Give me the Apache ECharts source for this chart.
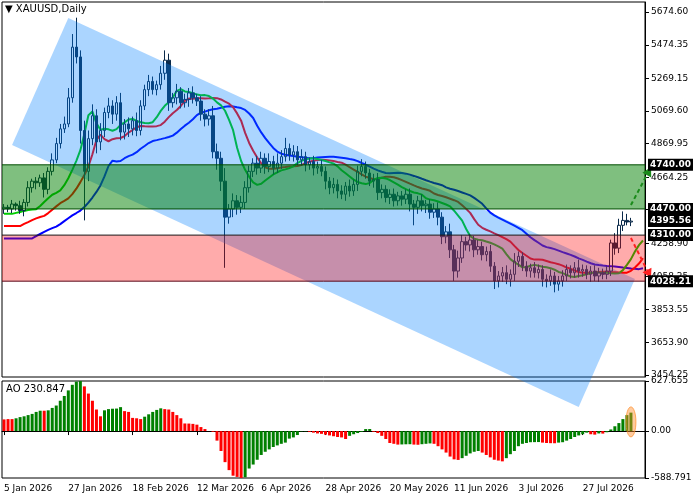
<!DOCTYPE html>
<html><head><meta charset="utf-8">
<script src="https://cdn.jsdelivr.net/npm/echarts@6/dist/echarts.min.js"></script>
<style>html,body{margin:0;padding:0;background:#fff}#c{width:700px;height:500px}</style>
</head><body><div id="c"></div>
<script>
// ---- data ----
const closes = [4480,4470,4500,4490,4460,4510,4600,4640,4630,4660,
4590,4700,4770,4870,4960,4990,5150,5460,5400,4950,
4700,4900,5040,4880,4950,5060,5100,5050,5120,4940,
4990,4960,5010,4950,5100,5200,5250,5200,5230,5300,
5380,5120,5150,5190,5120,5140,5180,5150,5130,5050,
5020,5040,4820,4780,4640,4420,4470,4520,4480,4510,
4600,4700,4750,4720,4780,4730,4760,4720,4750,4790,
4840,4800,4820,4770,4790,4740,4760,4720,4730,4700,
4640,4600,4620,4580,4560,4610,4580,4620,4700,4730,
4690,4640,4650,4570,4590,4540,4560,4520,4550,4530,
4560,4500,4480,4520,4490,4500,4450,4470,4420,4300,
4330,4220,4090,4170,4270,4250,4280,4220,4240,4190,
4210,4120,4030,4060,4080,4040,4070,4150,4180,4120,
4090,4110,4080,4100,4040,4030,4060,4010,4030,4060,
4100,4080,4110,4090,4100,4070,4090,4060,4080,4070,
4090,4262,4230,4370,4400,4390,4395.56];
const firstOpen = 4470;
const upWick = [20,15,25,10,30,20,40,15,25,20,
30,25,40,35,30,45,60,80,180,40,
60,50,70,40,45,30,50,35,40,60,
30,40,25,50,35,30,40,30,25,45,
60,40,30,45,25,35,30,40,25,30,
30,40,60,50,40,80,30,45,35,40,
40,35,30,45,40,30,50,35,60,40,
65,30,40,35,45,30,25,35,30,40,
30,25,40,30,35,25,40,30,35,45,
30,25,35,40,30,25,30,35,25,30,
30,35,25,30,40,25,30,35,40,30,
35,50,30,45,40,30,35,25,40,30,
30,40,25,30,35,45,30,50,30,25,
30,25,35,30,25,30,40,25,30,35,
30,25,35,50,30,25,30,35,30,25,
30,20,60,40,55,40,20];
const downWick = [30,20,25,30,20,35,25,30,40,25,
50,30,25,20,30,25,20,30,40,80,
300,60,40,70,50,40,35,60,40,50,
45,50,40,35,30,25,40,30,35,30,
40,50,30,40,35,30,45,35,30,40,
45,40,40,70,60,310,40,50,45,35,
40,30,35,40,30,45,35,40,30,35,
30,35,40,30,35,40,30,45,35,30,
50,40,35,45,30,40,35,30,40,30,
35,30,40,45,35,30,40,35,30,40,
30,45,110,40,35,45,40,35,50,45,
40,50,60,40,30,35,40,45,30,35,
40,35,50,40,35,30,45,40,35,30,
35,40,30,35,45,40,30,50,40,35,
30,35,30,40,35,30,45,30,35,30,
30,30,40,30,35,20,25];
const aoValues = [146,150,150,160,175,185,200,215,240,255,
255,260,290,320,380,440,510,580,620,627,
560,470,380,270,185,260,275,280,282,300,
250,240,165,160,150,180,210,240,265,285,
275,270,240,200,160,95,94,90,80,50,
25,0,-10,-120,-250,-390,-490,-560,-575,-588,
-580,-470,-420,-360,-300,-260,-230,-200,-180,-160,
-145,-95,-80,-50,-5,-4,-10,-20,-30,-35,
-45,-55,-65,-75,-80,-100,-60,-40,-25,-10,
25,26,-10,-25,-60,-100,-150,-160,-170,-168,
-166,-165,-170,-172,-165,-160,-155,-160,-190,-230,
-270,-320,-355,-362,-340,-310,-280,-260,-250,-270,
-300,-330,-360,-370,-380,-340,-290,-250,-190,-160,
-150,-140,-139,-138,-145,-150,-152,-153,-145,-140,
-120,-100,-75,-55,-40,-20,-40,-45,-30,-32,
-15,20,60,100,150,200,230.847];
const priceTicks = [5674.60,5474.35,5269.15,5069.60,4869.95,4664.25,4470.00,4258.90,4058.25,3853.55,3653.90,3454.25];
const aoTicks = [627.655,0,-588.791];
const levelLabels = [4740.00,4470.00,4395.56,4310.00,4028.21];
const greenZone = [4470,4740];
const redZone = [4028.21,4310];
const channelIdx = [2.0,16.4,157.2,142.8];
const channelPrice = [4861,5638,4041,3259];
const arrowUp = [[155.5,4494],[161.2,4726]];
const arrowDown = [[155.5,4292],[160.7,4047]];
// values of the three averages at the left edge (they began before the first visible bar)
const seedJaw = 4290, seedTeeth = 4365, seedLips = 4440;
const holidays = ['2026-04-03'];
const totalCats = 160;

// ---- categories ----
const months=['Jan','Feb','Mar','Apr','May','Jun','Jul','Aug','Sep'];
const dates=[];
let d=new Date(Date.UTC(2026,0,5));
while(dates.length<totalCats){
  const wd=d.getUTCDay();
  const iso=d.toISOString().slice(0,10);
  if(wd!==0&&wd!==6&&holidays.indexOf(iso)<0){
    dates.push(d.getUTCDate()+' '+months[d.getUTCMonth()]+' '+d.getUTCFullYear());
  }
  d=new Date(d.getTime()+86400000);
}

// ---- candles ----
const candles=[];const medians=[];
for(let i=0;i<closes.length;i++){
  const o=i===0?firstOpen:closes[i-1], c=closes[i];
  const lo=Math.min(o,c)-downWick[i], hi=Math.max(o,c)+upWick[i];
  candles.push([o,c,lo,hi]);medians.push((lo+hi)/2);
}
function smma(n,shift,seed){
  const out=new Array(totalCats).fill(null);let v=seed;
  for(let k=0;k<shift;k++) out[k]=seed;
  for(let i=0;i<medians.length;i++){
    v=(v*(n-1)+medians[i])/n;
    if(i+shift<totalCats) out[i+shift]=+v.toFixed(2);
  }
  return out;
}
const jaw=smma(13,8,seedJaw), teeth=smma(8,5,seedTeeth), lips=smma(5,3,seedLips);
const aoData=aoValues.map((v,i)=>({value:v,itemStyle:{color:(i===0||v>aoValues[i-1])?'#008000':'#ff0000'}}));
aoData[0].itemStyle.color='#ff0000';aoData[1].itemStyle.color='#ff0000';

const F='DejaVu Sans';
const chart=echarts.init(document.getElementById('c'));
function zoneRender(range,fill,stroke){
  return function(params,api){
    const cs=params.coordSys;
    const y1=api.coord([0,range[1]])[1], y2=api.coord([0,range[0]])[1];
    return {type:'group',children:[
      {type:'rect',shape:{x:cs.x,y:y1,width:cs.width,height:y2-y1},style:{fill:fill}},
      {type:'line',shape:{x1:cs.x,y1:y1,x2:cs.x+cs.width,y2:y1},style:{stroke:stroke[0],lineWidth:1}},
      {type:'line',shape:{x1:cs.x,y1:y2,x2:cs.x+cs.width,y2:y2},style:{stroke:stroke[1],lineWidth:1}}
    ]};
  };
}
function arrowRender(pts,color){
  return function(params,api){
    const a=api.coord(pts[0]), b=api.coord(pts[1]);
    const ang=Math.atan2(b[1]-a[1],b[0]-a[0]);
    const L=9,W=5;
    const bx=b[0]-L*Math.cos(ang), by=b[1]-L*Math.sin(ang);
    const px=-Math.sin(ang)*W, py=Math.cos(ang)*W;
    return {type:'group',children:[
      {type:'line',shape:{x1:a[0],y1:a[1],x2:bx,y2:by},style:{stroke:color,lineWidth:2,lineDash:[4,3]}},
      {type:'polygon',shape:{points:[[b[0],b[1]],[bx+px,by+py],[bx-px,by-py]]},style:{fill:color}}
    ]};
  };
}
chart.setOption({
  animation:false,
  backgroundColor:'#fff',
  graphic:[
    {type:'text',left:5,top:4,style:{text:'▼ XAUUSD,Daily',font:'10px '+F,fill:'#000'}},
    {type:'text',left:6,top:384,style:{text:'AO 230.847',font:'10px '+F,fill:'#000'}}
  ],
  grid:[
    {left:2,right:55,top:2,height:375,show:true,borderColor:'#000',borderWidth:1},
    {left:2,right:55,top:381,height:97,show:true,borderColor:'#000',borderWidth:1}
  ],
  xAxis:[
    {type:'category',data:dates,gridIndex:0,boundaryGap:true,axisLabel:{show:false},axisTick:{show:false},axisLine:{show:false}},
    {type:'category',data:dates,gridIndex:1,boundaryGap:true,
     axisLine:{show:true,lineStyle:{color:'#000'}},
     axisTick:{show:true,interval:15,alignWithLabel:true,lineStyle:{color:'#000'},length:4},
     axisLabel:{interval:15,align:'left',color:'#000',fontFamily:F,fontSize:9,margin:6}}
  ],
  yAxis:[
    {type:'value',gridIndex:0,position:'right',min:3442,max:5736,splitLine:{show:false},
     axisLine:{show:true,lineStyle:{color:'#000'}},
     axisTick:{show:true,customValues:priceTicks,length:4,lineStyle:{color:'#000'}},
     axisLabel:{customValues:priceTicks,formatter:v=>v.toFixed(2),color:'#000',fontFamily:F,fontSize:9,margin:6}},
    {type:'value',gridIndex:1,position:'right',min:-588.791,max:627.655,splitLine:{show:false},
     axisLine:{show:true,lineStyle:{color:'#000'}},
     axisTick:{show:true,customValues:aoTicks,length:4,lineStyle:{color:'#000'}},
     axisLabel:{customValues:aoTicks,formatter:v=>v===0?'0.00':String(v),color:'#000',fontFamily:F,fontSize:9,margin:6}}
  ],
  series:[
    {type:'candlestick',xAxisIndex:0,yAxisIndex:0,data:candles,barWidth:3,z:2,
     itemStyle:{color:'rgba(0,0,0,0)',color0:'#0b2a4a',borderColor:'#0b2a4a',borderColor0:'#0b2a4a',borderWidth:1}},
    {type:'line',xAxisIndex:0,yAxisIndex:0,data:jaw,showSymbol:false,symbol:'none',z:2,lineStyle:{color:'#0000ff',width:2}},
    {type:'line',xAxisIndex:0,yAxisIndex:0,data:teeth,showSymbol:false,symbol:'none',z:2,lineStyle:{color:'#ff0000',width:2}},
    {type:'line',xAxisIndex:0,yAxisIndex:0,data:lips,showSymbol:false,symbol:'none',z:2,lineStyle:{color:'#00cc00',width:2}},
    {type:'custom',xAxisIndex:0,yAxisIndex:0,data:[0],z:3,clip:false,silent:true,
     renderItem:function(p,api){
       const pts=channelIdx.map((x,i)=>api.coord([x,channelPrice[i]]));
       return {type:'polygon',shape:{points:pts},style:{fill:'rgba(0,128,255,0.33)'}};
     }},
    {type:'custom',xAxisIndex:0,yAxisIndex:0,data:[0],z:4,silent:true,
     renderItem:zoneRender(greenZone,'rgba(0,128,0,0.5)',['#004d00','#004d00'])},
    {type:'custom',xAxisIndex:0,yAxisIndex:0,data:[0],z:4,silent:true,
     renderItem:zoneRender(redZone,'rgba(255,0,0,0.33)',['#1a1a1a','#5a0a1a'])},
    {type:'custom',xAxisIndex:0,yAxisIndex:0,data:[0],z:5,clip:false,silent:true,renderItem:arrowRender(arrowUp,'#1a8a1a')},
    {type:'custom',xAxisIndex:0,yAxisIndex:0,data:[0],z:5,clip:false,silent:true,renderItem:arrowRender(arrowDown,'#ff2020')},
    {type:'custom',xAxisIndex:0,yAxisIndex:0,data:levelLabels.map(v=>[0,v]),z:20,clip:false,silent:true,
     renderItem:function(p,api){
       const cs=p.coordSys;const v=api.value(1);const y=api.coord([0,v])[1];
       return {type:'text',z2:100,x:cs.x+cs.width+3,y:y,style:{text:v.toFixed(2),fill:'#fff',backgroundColor:'#000',
         padding:[2,2,1,2],font:'bold 9px '+F,verticalAlign:'middle',align:'left'}};
     }},
    {type:'bar',xAxisIndex:1,yAxisIndex:1,data:aoData,barWidth:3,z:2},
    {type:'custom',xAxisIndex:1,yAxisIndex:1,data:[0],z:3,clip:false,silent:true,
     renderItem:function(p,api){
       const c=api.coord([155.5,115]);
       return {type:'ellipse',shape:{cx:c[0],cy:c[1],rx:5,ry:15},style:{fill:'rgba(255,140,40,0.45)',stroke:'rgba(255,140,40,0.7)',lineWidth:1}};
     }}
  ]
});
</script></body></html>
